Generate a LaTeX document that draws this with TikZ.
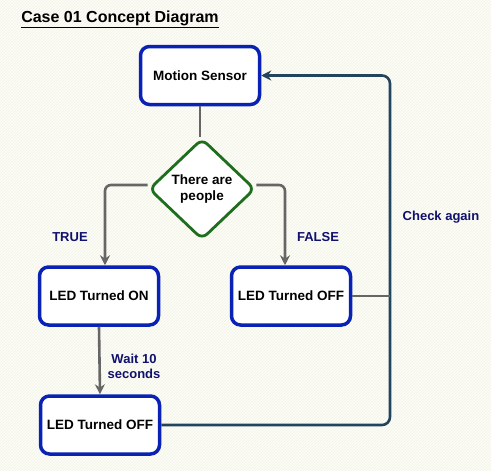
\documentclass[tikz,border=0pt]{standalone}
\usepackage{fontspec}
\setmainfont{Liberation Sans}
\usetikzlibrary{shapes.geometric,arrows.meta,patterns}
\definecolor{ledblue}{HTML}{0A22B4}
\definecolor{decgreen}{HTML}{1E6E1E}
\definecolor{linegray}{HTML}{666666}
\definecolor{loopslate}{HTML}{23445D}
\definecolor{labelnavy}{HTML}{10106E}
\definecolor{paper}{HTML}{FDFDF8}
\definecolor{hatch}{HTML}{F2F2E4}
\begin{document}
\begin{tikzpicture}
[x=1pt, y=-1pt,
  boxdecorate/.style={shape=rectangle,rounded corners=9pt,draw=ledblue,line width=3.5pt,
    fill=white,minimum width=119pt,minimum height=58pt,
    font=\bfseries\fontsize{13.5}{16}\selectfont},
  diamonddecorate/.style={shape=diamond,rounded corners=7pt,draw=decgreen,line width=2.8pt,
    fill=white,minimum width=106pt,minimum height=101pt,inner sep=0pt,align=center,
    font=\bfseries\fontsize{13.5}{16}\selectfont},
  linedecorate/.style={-{Stealth[length=10pt,width=10pt]},draw=linegray,line width=2.6pt,rounded corners=6pt},
  loopdecorate/.style={-{Stealth[length=10pt,width=10pt]},draw=loopslate,line width=2.6pt,rounded corners=8pt},
  labeldecorate/.style={text=labelnavy,align=center,font=\bfseries\fontsize{13}{15}\selectfont}]
%% paper and frame
\useasboundingbox (0,0) rectangle (491,471);
\fill[paper] (0,0) rectangle (491,471);
\fill[pattern=north east lines,pattern color=hatch] (0,0) rectangle (491,471);
\node (title) at (120,19) [font=\fontsize{16}{18}\selectfont\bfseries] {\underline{Case 01 Concept Diagram}};
%% nodes or vertices
\foreach \nodename/\x/\y/\txt in {motion/200/75.5/Motion Sensor, ledon/99/296/LED Turned ON,
    ledoff/291/296/LED Turned OFF, ledwait/100/425/LED Turned OFF} {
  \node (\nodename) at (\x,\y) [boxdecorate] {\txt};
}
\node (people) at (202,189) [diamonddecorate] {There are\\people};
\coordinate (loopcorner) at (390,296);
%% labels
\node (truelabel) at (70,237) [labeldecorate] {TRUE};
\node (falselabel) at (318,237) [labeldecorate] {FALSE};
\node (waitlabel) at (134,366) [labeldecorate] {Wait 10\\seconds};
\node (checklabel) at (441,217) [labeldecorate] {Check again};
%% edges or lines
\draw[linedecorate,-] (motion.south) -- (motion.south |- people.north);
\draw[linedecorate] ([yshift=4pt]people.west) -| ([xshift=6pt]ledon.north);
\draw[linedecorate] ([yshift=4pt]people.east) -| ([xshift=-6pt]ledoff.north);
\draw[linedecorate] (ledon.south) -- (ledwait.north);
\draw[loopdecorate] (ledwait.east) -| (loopcorner) |- (motion.east);
\draw[linedecorate,-] (ledoff.east) -- (loopcorner);
\end{tikzpicture}
\end{document}
